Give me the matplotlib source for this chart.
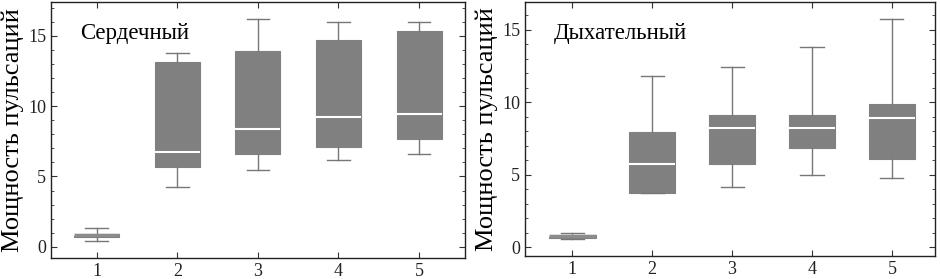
import matplotlib

matplotlib.use("Agg")
import matplotlib.pyplot as plt
from matplotlib.ticker import MultipleLocator

plt.rcParams["font.family"] = ["Liberation Serif", "DejaVu Serif"]

positions = [1, 2, 3, 4, 5]
ylabel = "Мощность пульсаций"

# Сердечный
heart_title = "Сердечный"
heart_whislo = [0.40, 4.24, 5.43, 6.18, 6.57]
heart_q1 = [0.72, 5.69, 6.61, 7.06, 7.63]
heart_med = [0.83, 6.71, 8.39, 9.22, 9.41]
heart_q3 = [0.93, 13.13, 13.93, 14.69, 15.31]
heart_whishi = [1.35, 13.74, 16.20, 15.95, 15.95]

# Дыхательный
resp_title = "Дыхательный"
resp_whislo = [0.55, 3.72, 4.17, 4.98, 4.79]
resp_q1 = [0.67, 3.76, 5.73, 6.81, 6.08]
resp_med = [0.76, 5.75, 8.23, 8.19, 8.90]
resp_q3 = [0.87, 7.98, 9.13, 9.13, 9.84]
resp_whishi = [0.96, 11.77, 12.39, 13.81, 15.76]

BOX_GRAY = "#808080"
LINE_GRAY = "#777777"


def make_stats(lo, q1, med, q3, hi):
    return [dict(whislo=a, q1=b, med=c, q3=d, whishi=e, fliers=[])
            for a, b, c, d, e in zip(lo, q1, med, q3, hi)]


def draw_panel(ax, stats, title, xlim, ylim, width):
    ax.bxp(stats, positions=positions, widths=width, patch_artist=True,
           showfliers=False,
           boxprops=dict(facecolor=BOX_GRAY, edgecolor=BOX_GRAY, linewidth=0.8),
           medianprops=dict(color="white", linewidth=1.5),
           whiskerprops=dict(color=LINE_GRAY, linewidth=1.0),
           capprops=dict(color=LINE_GRAY, linewidth=1.0),
           capwidths=width * 0.5)
    # the tiny first box: drawn gray on top so it reads as a thick bar
    ax.plot([positions[0] - width / 2, positions[0] + width / 2],
            [stats[0]["med"]] * 2, color="#8c8c8c", linewidth=2.5,
            solid_capstyle="butt", zorder=3)
    ax.set_xlim(*xlim)
    ax.set_ylim(*ylim)
    ax.set_xticks(positions)
    ax.set_xticklabels([str(p) for p in positions])
    ax.yaxis.set_major_locator(MultipleLocator(5))
    ax.yaxis.set_minor_locator(MultipleLocator(1))
    ax.tick_params(which="both", direction="in", top=True, right=True,
                   labelsize=13, colors="#333333", labelcolor="#222222")
    ax.tick_params(which="major", length=4, width=0.8)
    ax.tick_params(which="minor", length=2.5, width=0.6)
    ax.tick_params(axis="x", which="minor", bottom=False, top=False)
    for s in ax.spines.values():
        s.set_linewidth(1.0)
        s.set_color("#222222")
    ax.set_ylabel(ylabel, fontsize=19, labelpad=3)
    ax.text(0.07, 0.875, title, transform=ax.transAxes, fontsize=16.5,
            va="center", ha="left")


fig = plt.figure(figsize=(9.4, 2.79), dpi=100, facecolor="white")
ax1 = fig.add_axes([0.0543, 0.075, 0.4404, 0.918])
ax2 = fig.add_axes([0.5585, 0.082, 0.4362, 0.911])

draw_panel(ax1, make_stats(heart_whislo, heart_q1, heart_med, heart_q3, heart_whishi),
           heart_title, (0.433, 5.57), (-0.8, 17.4), 0.56)
draw_panel(ax2, make_stats(resp_whislo, resp_q1, resp_med, resp_q3, resp_whishi),
           resp_title, (0.407, 5.54), (-0.6, 16.9), 0.58)

fig.savefig("out.png", dpi=100, facecolor="white")
plt.close(fig)
